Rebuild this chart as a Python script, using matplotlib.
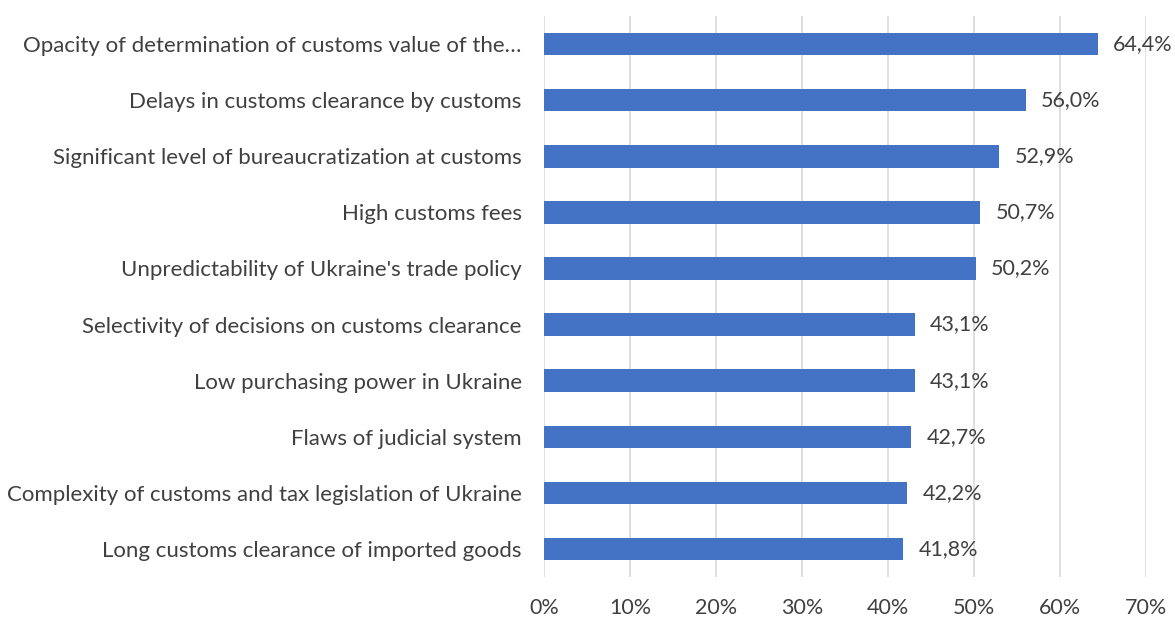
import numpy as np
import matplotlib.pyplot as plt
from matplotlib.ticker import FuncFormatter

# survey data: share of respondents naming each obstacle
labels = [
    "Opacity of determination of customs value of the\u2026",
    "Delays in customs clearance by customs",
    "Significant level of bureaucratization at customs",
    "High customs fees",
    "Unpredictability of Ukraine's trade policy",
    "Selectivity of decisions on customs clearance",
    "Low purchasing power in Ukraine",
    "Flaws of judicial system",
    "Complexity of customs and tax legislation of Ukraine",
    "Long customs clearance of imported goods",
]
values = [64.4, 56.0, 52.9, 50.7, 50.2, 43.1, 43.1, 42.7, 42.2, 41.8]
xticks = [0, 10, 20, 30, 40, 50, 60, 70]

plt.rcParams['font.family'] = ['Lato', 'DejaVu Sans']
txt = '#404040'
fs = 15.5

fig = plt.figure(figsize=(11.75, 6.17), dpi=100)
ax = fig.add_axes([0.463, 0.0648, 0.5123, 0.9092])

y = np.arange(len(labels))
ax.barh(y, values, height=0.4, color='#4472C4', zorder=3)
for yi, v in zip(y, values):
    ax.text(v + 1.8, yi, f"{v:.1f}%".replace('.', ','), va='center', ha='left',
            fontsize=fs, color=txt)

ax.set_ylim(len(labels) - 0.5, -0.5)
ax.set_xlim(0, 70)
ax.set_yticks(y)
ax.set_yticklabels(labels, fontsize=16, color=txt)
ax.set_xticks(xticks)
ax.xaxis.set_major_formatter(FuncFormatter(lambda x, p: f"{x:.0f}%"))
ax.tick_params(axis='x', labelsize=fs, labelcolor=txt, length=0, pad=15)
ax.tick_params(axis='y', length=0, pad=16)
ax.grid(axis='x', color='#d9d9d9', linewidth=1.2, zorder=0)
for s in ax.spines.values():
    s.set_visible(False)

fig.savefig('out.png', dpi=100)
